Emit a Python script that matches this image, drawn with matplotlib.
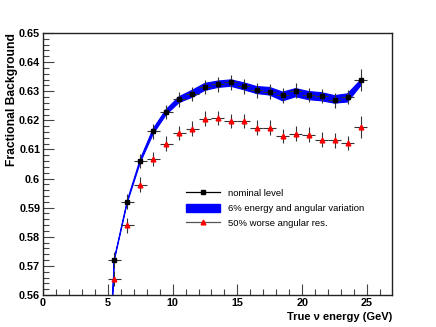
import matplotlib
matplotlib.use("Agg")
import matplotlib.pyplot as plt
import numpy as np
from matplotlib.ticker import MultipleLocator
from matplotlib.patches import Patch
from matplotlib.lines import Line2D

plt.rcParams['font.family'] = ['Liberation Sans', 'DejaVu Sans']

energy = [5.5, 6.5, 7.5, 8.5, 9.5, 10.5, 11.5, 12.5, 13.5, 14.5,
          15.5, 16.5, 17.5, 18.5, 19.5, 20.5, 21.5, 22.5, 23.5, 24.5]
nominal = [0.5720, 0.5920, 0.6060, 0.6162, 0.6228, 0.6272, 0.6291, 0.6315, 0.6324, 0.6330,
           0.6317, 0.6303, 0.6299, 0.6286, 0.6302, 0.6287, 0.6283, 0.6269, 0.6280, 0.6338]
nominal_err = [0.0028, 0.0026, 0.0025, 0.0025, 0.0025, 0.0025, 0.0025, 0.0025, 0.0025, 0.0025,
               0.0025, 0.0025, 0.0025, 0.0025, 0.0025, 0.0025, 0.0025, 0.0025, 0.0025, 0.0038]
worse = [0.5656, 0.5839, 0.5979, 0.6067, 0.6120, 0.6156, 0.6171, 0.6206, 0.6208, 0.6198,
         0.6198, 0.6175, 0.6175, 0.6146, 0.6154, 0.6151, 0.6134, 0.6131, 0.6122, 0.6177]
worse_err = [0.0025, 0.0025, 0.0025, 0.0025, 0.0025, 0.0025, 0.0025, 0.0025, 0.0025, 0.0025,
             0.0025, 0.0025, 0.0025, 0.0025, 0.0025, 0.0025, 0.0025, 0.0025, 0.0025, 0.0038]

band_x = [4.5, 5.5, 6.5, 7.5, 8.5, 9.5, 10.5, 11.5, 12.5, 13.5, 14.5,
          15.5, 16.5, 17.5, 18.5, 19.5, 20.5, 21.5, 22.5, 23.5, 24.5]
band_lo = [0.4700, 0.5718, 0.5916, 0.6054, 0.6153, 0.6219, 0.6261, 0.6279, 0.6303, 0.6313, 0.6317,
           0.6305, 0.6292, 0.6287, 0.6267, 0.6281, 0.6271, 0.6267, 0.6259, 0.6263, 0.6318]
band_hi = [0.4706, 0.5724, 0.5924, 0.6066, 0.6171, 0.6237, 0.6281, 0.6303, 0.6327, 0.6335, 0.6339,
           0.6329, 0.6316, 0.6313, 0.6297, 0.6309, 0.6299, 0.6295, 0.6285, 0.6291, 0.6338]

fig = plt.figure(figsize=(4.36, 3.27), dpi=100)
ax = fig.add_axes([43/436, 1 - 295/327, (392-43)/436, (295-33)/327])

ax.fill_between(band_x, band_lo, band_hi, color='#0000ff', lw=0.8, edgecolor='#0000ff', zorder=2)

xerr = 0.5
ax.errorbar(energy, nominal, yerr=nominal_err, xerr=xerr, fmt='s', color='black',
            ms=3.3, elinewidth=0.8, capsize=0, zorder=4, ecolor='#333333')
ax.errorbar(energy, worse, yerr=worse_err, xerr=xerr, fmt='^', mfc='red', mec='red',
            ms=3.4, elinewidth=0.8, capsize=0, zorder=4, ecolor='#333333')

ax.set_xlim(0, 26.93)
ax.set_ylim(0.56, 0.65)
ax.xaxis.set_major_locator(MultipleLocator(5))
ax.xaxis.set_minor_locator(MultipleLocator(1))
ax.yaxis.set_minor_locator(MultipleLocator(0.002))
ax.set_yticks(np.arange(0.56, 0.6501, 0.01))
ax.set_yticklabels(['0.56', '0.57', '0.58', '0.59', '0.6', '0.61', '0.62', '0.63', '0.64', '0.65'])
ax.tick_params(which='both', direction='in', top=False, right=False, labelsize=7.8, pad=2)
ax.tick_params(which='major', length=8, width=0.8, color='#444444')
ax.tick_params(which='minor', length=4, width=0.8, color='#444444')
for lab in ax.get_xticklabels() + ax.get_yticklabels():
    lab.set_fontweight('bold')
for s in ax.spines.values():
    s.set_linewidth(1.0)
    s.set_color('#222222')

ax.set_ylabel('Fractional Background', fontsize=8.7, fontweight='bold', loc='top', labelpad=1)
ax.set_xlabel('True \u03bd energy (GeV)', fontsize=8.0, fontweight='bold', loc='right', labelpad=3)

handles = [
    Line2D([0], [0], color='black', marker='s', ms=3.3, lw=0.9),
    Patch(facecolor='#0000ff', edgecolor='#0000ff'),
    Line2D([0], [0], color='#555555', marker='^', mfc='red', mec='red', ms=3.4, lw=0.9),
]
labels = ['nominal level', '6% energy and angular variation', '50% worse angular res.']
ax.legend(handles, labels, loc='upper left', bbox_to_anchor=(0.41, 0.405), frameon=False,
          fontsize=6.8, handlelength=3.6, handletextpad=0.8, labelspacing=0.6,
          borderaxespad=0, borderpad=0, handleheight=0.9)

fig.savefig('out.png', dpi=100)
